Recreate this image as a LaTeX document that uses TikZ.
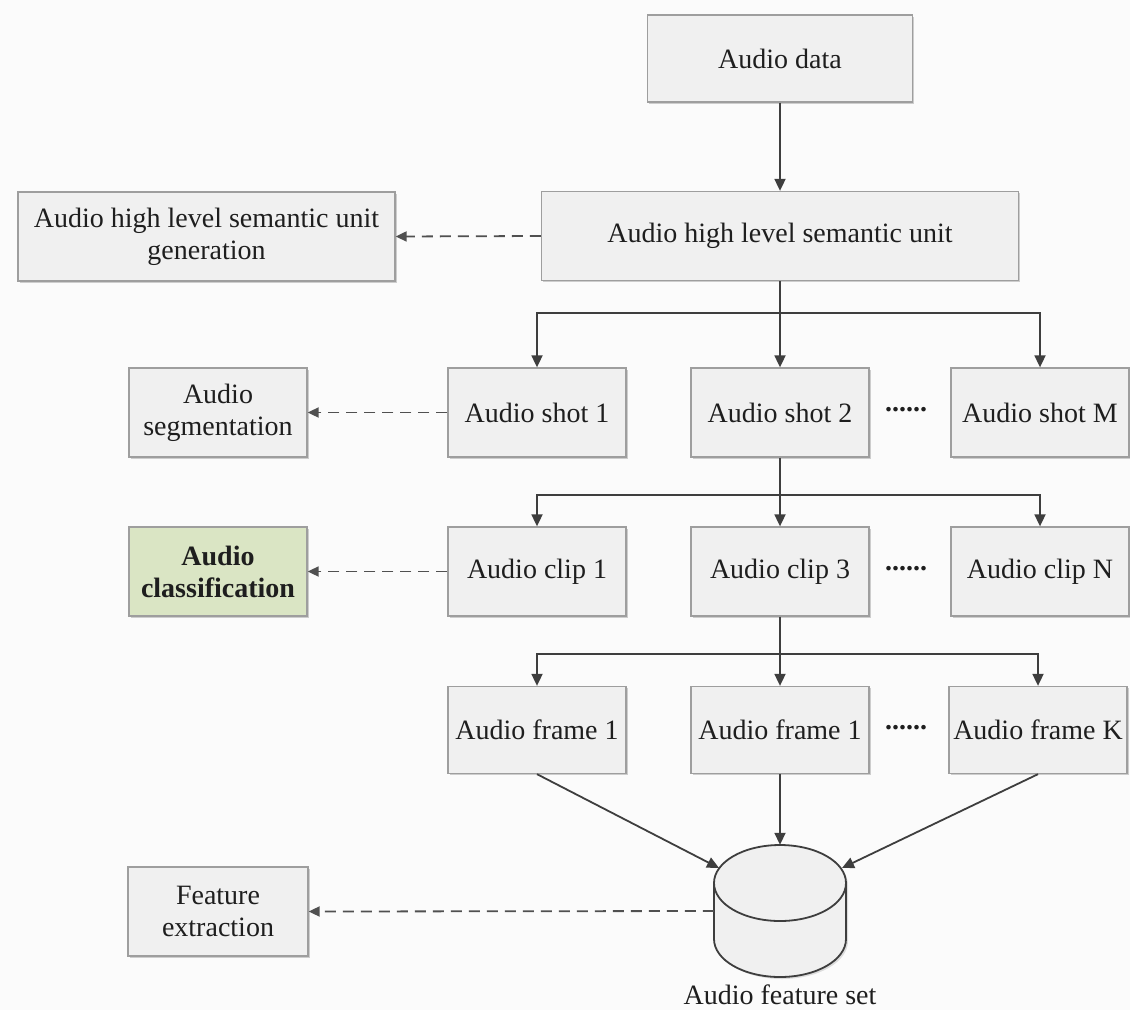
\documentclass[tikz,border=0pt]{standalone}
\usepackage{fontspec}
\setmainfont{Liberation Serif}
\usetikzlibrary{arrows.meta,shadows}

\definecolor{pagebg}{RGB}{251,251,251}
\definecolor{boxfill}{RGB}{240,240,240}
\definecolor{boxline}{RGB}{158,158,158}
\definecolor{greenfill}{RGB}{218,229,196}
\definecolor{linecol}{RGB}{62,62,62}
\definecolor{dashcol}{RGB}{80,80,80}
\definecolor{inkcol}{RGB}{30,30,30}

\tikzset{
  unit/.style={draw=boxline, line width=1.3pt, fill=boxfill, inner sep=0pt,
    align=center, text=inkcol, font=\fontsize{28}{32}\selectfont,
    drop shadow={shadow xshift=1.6pt, shadow yshift=-1.6pt, fill=black, opacity=0.18}},
  narrow/.style={unit, minimum width=178pt, minimum height=89pt},
  flow/.style={draw=linecol, line width=1.8pt, -{Triangle[length=12pt,width=11pt]}},
  feed/.style={draw=dashcol, line width=1.8pt, dash pattern=on 11pt off 7pt,
    -{Triangle[length=11pt,width=10pt]}},
  dotsep/.style={inner sep=0pt, text=inkcol, font=\fontsize{28}{32}\selectfont\bfseries},
  caption/.style={inner sep=0pt, text=inkcol, font=\fontsize{28}{32}\selectfont},
}

\begin{document}
\begin{tikzpicture}[x=1pt, y=-1pt]
  \fill[pagebg] (0,0) rectangle (1130,1010);
  \useasboundingbox (0,0) rectangle (1130,1010);

  % main column
  \node[unit, minimum width=265pt, minimum height=87pt] (data) at (780,58.5) {Audio data};
  \node[unit, minimum width=477pt, minimum height=89pt] (sem) at (780,236) {Audio high level semantic unit};

  % side boxes
  \node[unit, minimum width=377pt, minimum height=89pt] (gen) at (206.5,236.5)
    {Audio high level semantic unit\\generation};
  \node[narrow] (seg) at (218,412.5) {Audio\\segmentation};
  \node[narrow, fill=greenfill, font=\fontsize{28}{32}\selectfont\bfseries] (cls) at (218,571.5)
    {Audio\\classification};
  \node[narrow, minimum width=180pt] (fe) at (218,911.5) {Feature\\extraction};

  % shots
  \node[narrow] (shot1) at (537,412.5) {Audio shot 1};
  \node[narrow] (shot2) at (780,412.5) {Audio shot 2};
  \node[narrow] (shotM) at (1040,412.5) {Audio shot M};
  \node[dotsep] (dots1) at (906,410) {......};

  % clips
  \node[narrow] (clip1) at (537,571.5) {Audio clip 1};
  \node[narrow] (clip3) at (780,571.5) {Audio clip 3};
  \node[narrow] (clipN) at (1040,571.5) {Audio clip N};
  \node[dotsep] (dots2) at (906,569) {......};

  % frames
  \node[narrow, minimum height=87pt] (frame1) at (537,730) {Audio frame 1};
  \node[narrow, minimum height=87pt] (frame2) at (780,730) {Audio frame 1};
  \node[narrow, minimum height=87pt] (frameK) at (1038,730) {Audio frame K};
  \node[dotsep] (dots3) at (906,727.5) {......};

  % feature store (cylinder)
  \node[inner sep=0pt, minimum width=132pt, minimum height=132pt] (cyl) at (780,911) {};
  \fill[black, opacity=0.12] (716,885) -- (716,941) arc[start angle=180, end angle=0, x radius=66, y radius=38]
    -- (848,885) arc[start angle=0, end angle=-180, x radius=66, y radius=38] -- cycle;
  \filldraw[fill=boxfill, draw=linecol, line width=1.8pt]
    (714,883) -- (714,939) arc[start angle=180, end angle=0, x radius=66, y radius=38]
    -- (846,883) arc[start angle=0, end angle=-180, x radius=66, y radius=38] -- cycle;
  \draw[linecol, line width=1.8pt] (714,883) arc[start angle=180, end angle=0, x radius=66, y radius=38];
  \node[caption, anchor=base] (cyllabel) at (780,1004) {Audio feature set};
  \coordinate (cylTL) at (719,868);
  \coordinate (cylTR) at (842,868);

  % hierarchy connectors
  \draw[flow] (data) -- (sem);

  \coordinate (b1) at (780,313);
  \draw[flow] (sem.south) -- (shot2.north);
  \draw[flow] (b1) -| (shot1.north);
  \draw[flow] (b1) -| (shotM.north);

  \coordinate (b2) at (780,495);
  \draw[flow] (shot2.south) -- (clip3.north);
  \draw[flow] (b2) -| (clip1.north);
  \draw[flow] (b2) -| (clipN.north);

  \coordinate (b3) at (780,654);
  \draw[flow] (clip3.south) -- (frame2.north);
  \draw[flow] (b3) -| (frame1.north);
  \draw[flow] (b3) -| (frameK.north);

  \draw[flow] (frame1.south) -- (cylTL);
  \draw[flow] (frame2.south) -- (cyl.north);
  \draw[flow] (frameK.south) -- (cylTR);

  % task links
  \draw[feed] (sem.west) -- (gen.east);
  \draw[feed] (shot1.west) -- (seg.east);
  \draw[feed] (clip1.west) -- (cls.east);
  \draw[feed] (cyl.west) -- (fe.east);
\end{tikzpicture}
\end{document}
